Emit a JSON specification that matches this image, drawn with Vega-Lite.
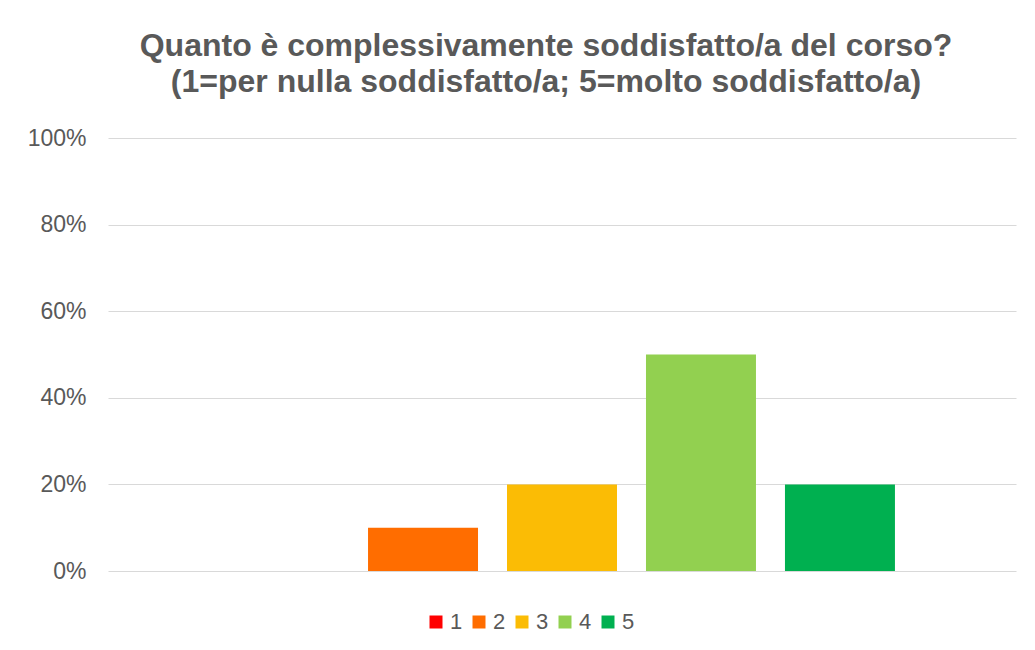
{
  "$schema": "https://vega.github.io/schema/vega-lite/v6.json",
  "autosize": "none",
  "width": 908,
  "height": 433,
  "padding": {"left": 108, "top": 138, "right": 19, "bottom": 79},
  "background": "white",
  "title": {
    "text": ["Quanto è complessivamente soddisfatto/a del corso?", "(1=per nulla soddisfatto/a; 5=molto soddisfatto/a)"],
    "font": "Liberation Sans",
    "fontSize": 32,
    "fontWeight": "bold",
    "color": "#595959",
    "lineHeight": 36,
    "anchor": "middle",
    "frame": "group",
    "dx": -16,
    "offset": 28
  },
  "data": {
    "values": [
      {"voto": "1", "percentuale": 0.0},
      {"voto": "2", "percentuale": 0.1},
      {"voto": "3", "percentuale": 0.2},
      {"voto": "4", "percentuale": 0.5},
      {"voto": "5", "percentuale": 0.2}
    ]
  },
  "mark": {"type": "bar"},
  "encoding": {
    "x": {
      "field": "voto",
      "type": "nominal",
      "scale": {"paddingInner": 0.2086, "paddingOuter": 0.871},
      "axis": null
    },
    "y": {
      "field": "percentuale",
      "type": "quantitative",
      "scale": {"domain": [0, 1], "nice": false},
      "axis": {
        "title": null,
        "format": ".0%",
        "values": [0, 0.2, 0.4, 0.6, 0.8, 1],
        "domain": false,
        "ticks": false,
        "labelPadding": 22,
        "labelFont": "Liberation Sans",
        "labelFontSize": 23,
        "labelColor": "#595959",
        "gridColor": "#d9d9d9",
        "gridWidth": 1
      }
    },
    "color": {
      "field": "voto",
      "type": "nominal",
      "scale": {
        "domain": ["1", "2", "3", "4", "5"],
        "range": ["#FF0000", "#FF6D00", "#FBBC05", "#92D050", "#00B050"]
      },
      "legend": {
        "title": null,
        "orient": "none",
        "direction": "horizontal",
        "legendX": 317,
        "legendY": 473,
        "symbolType": "square",
        "symbolSize": 169,
        "symbolStrokeWidth": 0,
        "labelFont": "Liberation Sans",
        "labelFontSize": 22,
        "labelColor": "#595959",
        "labelOffset": 3,
        "columnPadding": 5,
        "padding": 0
      }
    }
  },
  "config": {
    "view": {"stroke": null}
  }
}
